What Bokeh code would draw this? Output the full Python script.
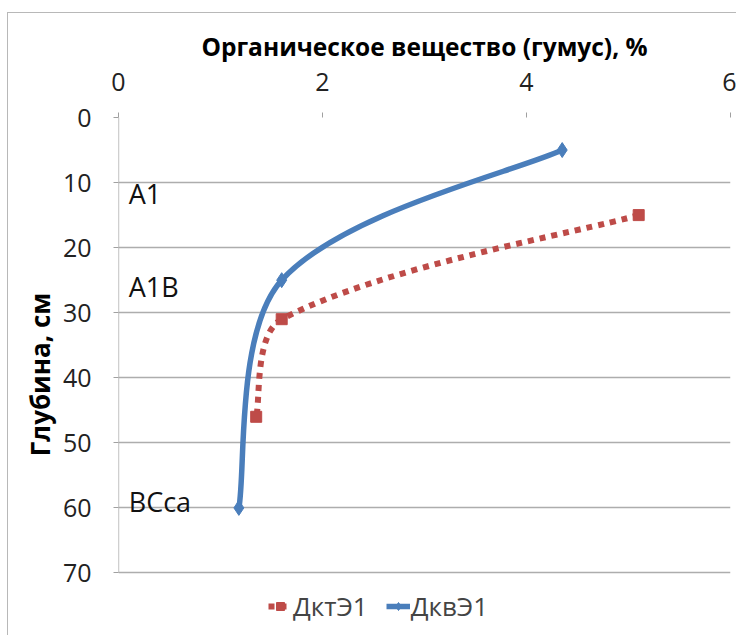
import math
from bokeh.plotting import figure
from bokeh.models import Range1d, Legend, LegendItem, FixedTicker, ColumnDataSource
from bokeh.core.properties import value
from bokeh.embed import file_html
from bokeh.resources import INLINE

# ---- data ----
kt_humus = [5.1, 1.6, 1.35]      # ДктЭ1
kt_depth = [15, 31, 46]
kv_humus = [4.35, 1.6, 1.18]     # ДквЭ1
kv_depth = [5, 25, 60]
horizons = ["A1", "A1B", "BCca"]
horizon_depth = [11.7, 26, 59]
x_ticks = [0, 2, 4, 6]
y_ticks = [0, 10, 20, 30, 40, 50, 60, 70]

FONT = "Open Sans"
BLUE = "#4A7EBB"
RED = "#BE4B48"
AXIS_GREY = "#a0a0a0"

W, H = 728, 622
ML, MR, MT = 110, 6, 104
PX_PER_DEPTH = 6.5
X0, X1 = x_ticks[0], x_ticks[-1]
Y0, Y1 = y_ticks[0], y_ticks[-1]
Y_EXT = 79                      # frame extends below the last tick to hold the legend
MB = H - MT - (Y_EXT - Y0) * PX_PER_DEPTH
SX = (W - ML - MR) / (X1 - X0)   # px per unit, used to weight the smoothing
SY = PX_PER_DEPTH


def smooth(xs, ys):
    """Bezier control points for a smoothed line through the given points."""
    n = len(xs)
    P = [(x * SX, y * SY) for x, y in zip(xs, ys)]
    L = [math.dist(P[i], P[i + 1]) for i in range(n - 1)]
    fwd, bwd = [None] * n, [None] * n
    for i in range(n):
        if i == 0:
            fwd[i] = (P[0][0] + (P[1][0] - P[0][0]) / 6, P[0][1] + (P[1][1] - P[0][1]) / 6)
        elif i == n - 1:
            bwd[i] = (P[i][0] - (P[i][0] - P[i - 1][0]) / 6, P[i][1] - (P[i][1] - P[i - 1][1]) / 6)
        else:
            tx, ty = P[i + 1][0] - P[i - 1][0], P[i + 1][1] - P[i - 1][1]
            s = L[i - 1] + L[i]
            a, b = L[i] / s / 3, L[i - 1] / s / 3
            fwd[i] = (P[i][0] + tx * a, P[i][1] + ty * a)
            bwd[i] = (P[i][0] - tx * b, P[i][1] - ty * b)
    d = dict(x0=[], y0=[], x1=[], y1=[], cx0=[], cy0=[], cx1=[], cy1=[])
    for i in range(n - 1):
        d["x0"].append(xs[i]); d["y0"].append(ys[i])
        d["x1"].append(xs[i + 1]); d["y1"].append(ys[i + 1])
        d["cx0"].append(fwd[i][0] / SX); d["cy0"].append(fwd[i][1] / SY)
        d["cx1"].append(bwd[i + 1][0] / SX); d["cy1"].append(bwd[i + 1][1] / SY)
    return ColumnDataSource(d)


p = figure(width=W, height=H, output_backend="svg", toolbar_location=None,
           x_range=Range1d(X0, X1), y_range=Range1d(Y_EXT, Y0),
           x_axis_location="above",
           min_border_left=ML, min_border_right=MR, min_border_top=MT,
           min_border_bottom=int(round(MB)))
p.margin = (13, 0, 0, 8)
p.styles = {"outline": "1px solid #b8b8b8"}
p.outline_line_color = None
p.background_fill_color = "white"

xa = p.xaxis[0]
xa.ticker = FixedTicker(ticks=x_ticks)
xa.axis_label = "Органическое вещество (гумус), %"
ya = p.yaxis[0]
ya.ticker = FixedTicker(ticks=y_ticks)
ya.axis_label = "Глубина, см"
for ax in (xa, ya):
    ax.axis_label_text_font = FONT
    ax.axis_label_text_font_style = "bold"
    ax.axis_label_text_color = "black"
    ax.major_label_text_font = FONT
    ax.major_label_text_font_size = "25px"
    ax.major_label_text_color = "#222222"
    ax.axis_line_color = None
    ax.major_tick_line_color = AXIS_GREY
    ax.major_tick_out = 5
    ax.major_tick_in = 0
    ax.minor_tick_line_color = None
xa.axis_label_text_font_size = "24.5px"
ya.axis_label_text_font_size = "26px"
xa.major_label_standoff = 22
xa.axis_label_standoff = 7
ya.major_label_standoff = 22
ya.axis_label_standoff = 2

p.xgrid.grid_line_color = None
p.ygrid.grid_line_color = "#adadad"
p.ygrid.grid_line_width = 1.3

# left axis line, only over the tick range
p.segment(x0=[X0], y0=[Y0], x1=[X0], y1=[Y1], line_color=AXIS_GREY, line_width=1.3)

src_kt = smooth(kt_humus, kt_depth)
src_kv = smooth(kv_humus, kv_depth)
r_kt_line = p.bezier(x0="x0", y0="y0", x1="x1", y1="y1", cx0="cx0", cy0="cy0",
                     cx1="cx1", cy1="cy1", source=src_kt, line_color=RED,
                     line_width=6, line_dash="6 6")
r_kt_pts = p.scatter(kt_humus, kt_depth, marker="square", size=11, color=RED)
r_kv_line = p.bezier(x0="x0", y0="y0", x1="x1", y1="y1", cx0="cx0", cy0="cy0",
                     cx1="cx1", cy1="cy1", source=src_kv, line_color=BLUE,
                     line_width=5.5)
r_kv_pts = p.scatter(kv_humus, kv_depth, marker="diamond", size=15, color=BLUE)

p.text(x=[0.1] * len(horizons), y=horizon_depth, text=horizons,
       text_font=value(FONT), text_font_size="27px", text_baseline="middle",
       text_color="#111111")

legend = Legend(items=[LegendItem(label="ДктЭ1", renderers=[r_kt_line, r_kt_pts]),
                       LegendItem(label="ДквЭ1", renderers=[r_kv_line, r_kv_pts])],
                orientation="horizontal", location=(150, 7),
                background_fill_alpha=0, border_line_color=None,
                label_text_font=FONT, label_text_font_size="26px",
                glyph_width=24, label_standoff=1, spacing=18, padding=0, margin=0)
p.add_layout(legend, "center")

open("out.html", "w").write(file_html(p, INLINE))
